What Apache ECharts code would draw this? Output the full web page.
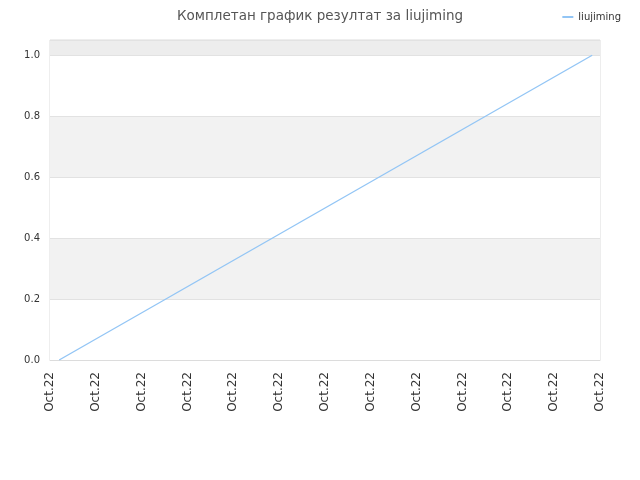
<!DOCTYPE html>
<html><head><meta charset="utf-8">
<script src="https://cdn.jsdelivr.net/npm/echarts@6/dist/echarts.min.js"></script>
<style>html,body{margin:0;padding:0;background:#fff}#c{width:640px;height:480px}</style>
</head><body><div id="c"></div>
<script>
const titleText = 'Комплетан график резултат за liujiming';
const seriesName = 'liujiming';
const xTickLabel = 'Oct.22';
const xPositions = [0.2, 11.83];
const yValues = [0, 1];

const chart = echarts.init(document.getElementById('c'));
chart.setOption({
  animation: false,
  backgroundColor: '#fff',
  title: { text: titleText, left: 'center', top: 4,
    textStyle: { fontFamily: 'DejaVu Sans', fontSize: 13.5, fontWeight: 'normal', color: '#555' } },
  legend: { right: 14, top: 7, itemWidth: 11, itemHeight: 2, icon: 'rect', itemGap: 8,
    textStyle: { fontFamily: 'DejaVu Sans', fontSize: 10, color: '#333' },
    data: [seriesName] },
  grid: { left: 50, right: 40, top: 40, bottom: 120, show: true, borderColor: '#dcdcdc', borderWidth: 1 },
  xAxis: { type: 'value', min: 0, max: 12, interval: 1,
    axisLine: { show: true, lineStyle: { color: '#dcdcdc' } },
    axisTick: { show: false }, splitLine: { show: false },
    axisLabel: { rotate: 90, formatter: () => xTickLabel, color: '#333',
      fontFamily: 'DejaVu Sans', fontSize: 12, margin: 12, showMinLabel: true, showMaxLabel: true } },
  yAxis: { type: 'value', min: 0, max: 1.05, interval: 0.2,
    axisLine: { show: false }, axisTick: { show: false },
    axisLabel: { color: '#333', fontFamily: 'DejaVu Sans', fontSize: 10, margin: 10,
      formatter: v => v > 1.0001 ? '' : v.toFixed(1) },
    splitLine: { show: true, lineStyle: { color: '#e2e2e2' } },
    splitArea: { show: true, areaStyle: { color: ['#ffffff', '#f2f2f2', '#ffffff', '#f2f2f2', '#ffffff', '#ededed'] } } },
  series: [{ name: seriesName, type: 'line', showSymbol: false, symbol: 'none',
    lineStyle: { color: '#92c5f5', width: 1.3 }, itemStyle: { color: '#92c5f5' },
    data: xPositions.map((x, i) => [x, yValues[i]]) }]
});
</script></body></html>
